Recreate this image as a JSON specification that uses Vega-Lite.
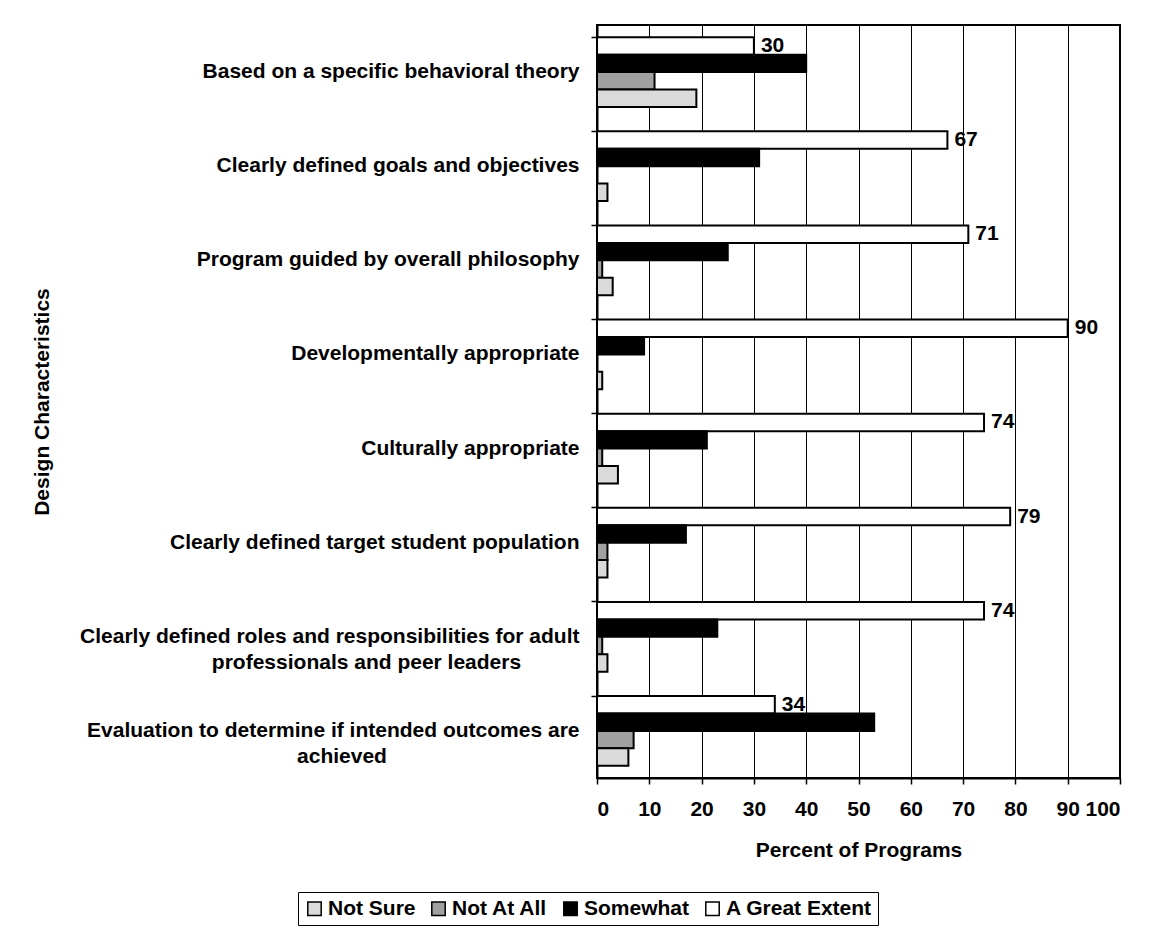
{
  "$schema": "https://vega.github.io/schema/vega-lite/v6.json",
  "width": 523,
  "height": 753,
  "autosize": {"type": "none"},
  "padding": {"left": 597, "top": 25, "right": 35, "bottom": 151},
  "background": "white",
  "config": {
    "font": "Liberation Sans",
    "view": {"stroke": "black", "strokeWidth": 2},
    "axis": {
      "labelFont": "Liberation Sans",
      "labelFontWeight": "bold",
      "labelColor": "black",
      "titleFont": "Liberation Sans",
      "titleFontWeight": "bold",
      "titleColor": "black",
      "domainColor": "black",
      "domainWidth": 2,
      "tickColor": "black",
      "tickWidth": 1.5
    },
    "legend": {
      "orient": "none",
      "legendX": -299,
      "legendY": 867,
      "direction": "horizontal",
      "strokeColor": "black",
      "padding": 6,
      "labelFont": "Liberation Sans",
      "labelFontSize": 21,
      "labelFontWeight": "bold",
      "labelColor": "black",
      "symbolType": "square",
      "symbolSize": 180,
      "symbolStrokeColor": "black",
      "symbolStrokeWidth": 1.5,
      "symbolOpacity": 1,
      "columnPadding": 12,
      "labelOffset": 3
    }
  },
  "data": {
    "values": [
      {"characteristic": "Based on a specific behavioral theory", "response": "A Great Extent", "value": 30},
      {"characteristic": "Based on a specific behavioral theory", "response": "Somewhat", "value": 40},
      {"characteristic": "Based on a specific behavioral theory", "response": "Not At All", "value": 11},
      {"characteristic": "Based on a specific behavioral theory", "response": "Not Sure", "value": 19},
      {"characteristic": "Clearly defined goals and objectives", "response": "A Great Extent", "value": 67},
      {"characteristic": "Clearly defined goals and objectives", "response": "Somewhat", "value": 31},
      {"characteristic": "Clearly defined goals and objectives", "response": "Not At All", "value": 0},
      {"characteristic": "Clearly defined goals and objectives", "response": "Not Sure", "value": 2},
      {"characteristic": "Program guided by overall philosophy", "response": "A Great Extent", "value": 71},
      {"characteristic": "Program guided by overall philosophy", "response": "Somewhat", "value": 25},
      {"characteristic": "Program guided by overall philosophy", "response": "Not At All", "value": 1},
      {"characteristic": "Program guided by overall philosophy", "response": "Not Sure", "value": 3},
      {"characteristic": "Developmentally appropriate", "response": "A Great Extent", "value": 90},
      {"characteristic": "Developmentally appropriate", "response": "Somewhat", "value": 9},
      {"characteristic": "Developmentally appropriate", "response": "Not At All", "value": 0},
      {"characteristic": "Developmentally appropriate", "response": "Not Sure", "value": 1},
      {"characteristic": "Culturally appropriate", "response": "A Great Extent", "value": 74},
      {"characteristic": "Culturally appropriate", "response": "Somewhat", "value": 21},
      {"characteristic": "Culturally appropriate", "response": "Not At All", "value": 1},
      {"characteristic": "Culturally appropriate", "response": "Not Sure", "value": 4},
      {"characteristic": "Clearly defined target student population", "response": "A Great Extent", "value": 79},
      {"characteristic": "Clearly defined target student population", "response": "Somewhat", "value": 17},
      {"characteristic": "Clearly defined target student population", "response": "Not At All", "value": 2},
      {"characteristic": "Clearly defined target student population", "response": "Not Sure", "value": 2},
      {"characteristic": "Clearly defined roles and responsibilities for adult professionals and peer leaders", "response": "A Great Extent", "value": 74},
      {"characteristic": "Clearly defined roles and responsibilities for adult professionals and peer leaders", "response": "Somewhat", "value": 23},
      {"characteristic": "Clearly defined roles and responsibilities for adult professionals and peer leaders", "response": "Not At All", "value": 1},
      {"characteristic": "Clearly defined roles and responsibilities for adult professionals and peer leaders", "response": "Not Sure", "value": 2},
      {"characteristic": "Evaluation to determine if intended outcomes are achieved", "response": "A Great Extent", "value": 34},
      {"characteristic": "Evaluation to determine if intended outcomes are achieved", "response": "Somewhat", "value": 53},
      {"characteristic": "Evaluation to determine if intended outcomes are achieved", "response": "Not At All", "value": 7},
      {"characteristic": "Evaluation to determine if intended outcomes are achieved", "response": "Not Sure", "value": 6}
    ]
  },
  "encoding": {
    "y": {
      "field": "characteristic",
      "type": "nominal",
      "sort": null,
      "scale": {"paddingInner": 0.26, "paddingOuter": 0.13},
      "axis": {
        "title": "Design Characteristics",
        "titleFontSize": 21,
        "titleX": -545,
        "titleAngle": 270,
        "titleBaseline": "bottom",
        "labelFontSize": 21,
        "labelAlign": "right",
        "labelPadding": 12,
        "labelLimit": 0,
        "labelLineHeight": 26,
        "tickSize": 6,
        "bandPosition": 0,
        "labelExpr": "datum.label == 'Clearly defined roles and responsibilities for adult professionals and peer leaders' ? ['Clearly defined roles and responsibilities for adult', 'professionals and peer leaders\u00a0\u00a0\u00a0\u00a0\u00a0\u00a0\u00a0\u00a0\u00a0\u00a0\u200b'] : datum.label == 'Evaluation to determine if intended outcomes are achieved' ? ['Evaluation to determine if intended outcomes are', 'achieved\u00a0\u00a0\u00a0\u00a0\u00a0\u00a0\u00a0\u00a0\u00a0\u00a0\u00a0\u00a0\u00a0\u00a0\u00a0\u00a0\u00a0\u00a0\u00a0\u00a0\u00a0\u00a0\u00a0\u00a0\u00a0\u00a0\u00a0\u00a0\u00a0\u00a0\u00a0\u00a0\u00a0\u200b'] : datum.label"
      }
    },
    "yOffset": {
      "field": "response",
      "type": "nominal",
      "scale": {"domain": ["A Great Extent", "Somewhat", "Not At All", "Not Sure"], "paddingInner": 0, "paddingOuter": 0}
    }
  },
  "layer": [
    {
      "mark": {"type": "bar", "stroke": "black", "strokeWidth": 2},
      "encoding": {
        "x": {
          "field": "value",
          "type": "quantitative",
          "scale": {"domain": [0, 100], "nice": false},
          "axis": {
            "values": [0, 10, 20, 30, 40, 50, 60, 70, 80, 90, 100],
            "grid": true,
            "gridColor": "black",
            "gridWidth": 1,
            "tickSize": 6,
            "labelFontSize": 21,
            "labelPadding": 14,
            "title": "Percent of Programs",
            "titleFontSize": 21,
            "titlePadding": 20
          }
        },
        "color": {
          "field": "response",
          "type": "nominal",
          "scale": {
            "domain": ["Not Sure", "Not At All", "Somewhat", "A Great Extent"],
            "range": ["#dadada", "#a0a0a0", "#000000", "#ffffff"]
          },
          "legend": {"title": null}
        }
      }
    },
    {
      "transform": [{"filter": "datum.response === 'A Great Extent'"}],
      "mark": {"type": "text", "align": "left", "baseline": "middle", "dx": 7, "font": "Liberation Sans", "fontSize": 21, "fontWeight": "bold", "color": "black"},
      "encoding": {
        "x": {"field": "value", "type": "quantitative"},
        "text": {"field": "value", "type": "quantitative"}
      }
    }
  ]
}
